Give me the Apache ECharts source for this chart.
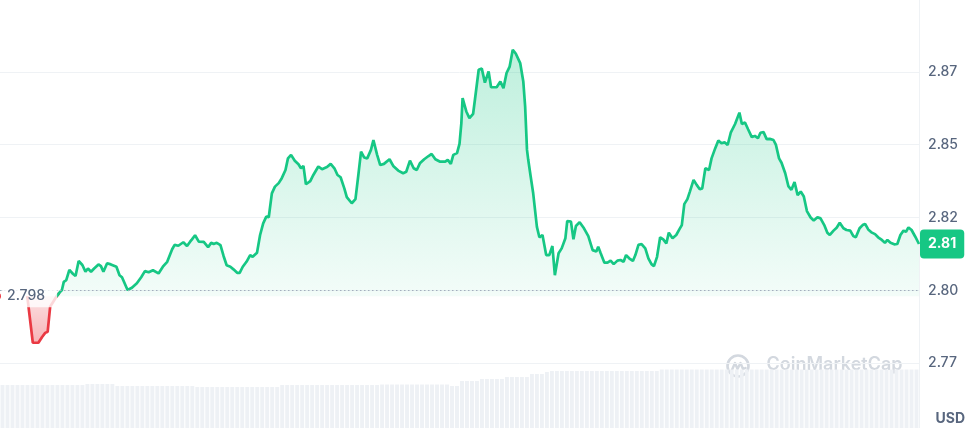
<!DOCTYPE html>
<html>
<head>
<meta charset="utf-8">
<script src="https://cdn.jsdelivr.net/npm/echarts@6/dist/echarts.min.js"></script>
<style>
html,body{margin:0;padding:0;background:#fff;overflow:hidden;width:972px;height:428px;}
#chart{width:972px;height:437px;margin-top:-1px;}
</style>
</head>
<body>
<div id="chart"></div>
<script>
// Open price (reference line)
const openPrice = 2.798;

// Minutes since start of the 24h window
const times = [
0,9,18,24,29,33,37,42,47,52,
56,59,63,68,74,78,83,89,94,98,
103,108,115,119,123,129,135,144,149,153,
162,169,177,184,190,196,203,212,219,226,
234,238,244,252,258,263,266,271,277,285,
292,297,301,306,312,317,322,328,333,339,
343,348,354,360,364,371,376,381,386,390,
395,400,406,411,417,421,426,432,438,442,
446,450,457,462,470,476,484,490,496,501,
506,512,516,524,530,535,539,544,549,555,
559,565,570,576,585,591,599,607,612,618,
624,629,634,641,648,653,659,666,675,679,
684,688,694,698,701,703,709,714,720,723,
729,734,739,745,749,758,764,769,774,779,
784,789,796,801,804,807,809,813,817,823,
827,832,838,843,848,852,858,863,869,872,
878,882,886,892,899,906,913,919,922,926,
932,937,942,947,953,958,963,967,972,978,
982,987,992,998,1003,1008,1012,1017,1022,1027,
1032,1036,1042,1048,1053,1057,1061,1066,1070,1076,
1081,1086,1090,1095,1101,1105,1111,1116,1121,1126,
1131,1136,1143,1150,1154,1159,1164,1170,1175,1180,
1184,1189,1194,1199,1205,1209,1214,1218,1224,1229,
1234,1239,1244,1249,1254,1259,1265,1270,1276,1281,
1287,1292,1296,1302,1307,1312,1318,1323,1329,1334,
1338,1344,1349,1353,1358,1364,1369,1374,1380,1385,
1389,1394,1400,1405,1410,1415,1419,1423,1428,1434,1440
];

// Price in USD
const prices = [
2.7980,2.7820,2.7820,2.7840,2.7854,2.7858,2.7944,2.7961,2.7978,2.7992,
2.8001,2.8029,2.8035,2.8070,2.8056,2.8049,2.8101,2.8087,2.8064,2.8075,
2.8064,2.8075,2.8089,2.8083,2.8064,2.8093,2.8089,2.8081,2.8052,2.8045,
2.8001,2.8009,2.8024,2.8045,2.8066,2.8062,2.8069,2.8058,2.8081,2.8098,
2.8141,2.8156,2.8153,2.8165,2.8152,2.8167,2.8175,2.8189,2.8167,2.8166,
2.8148,2.8163,2.8159,2.8163,2.8155,2.8118,2.8086,2.8081,2.8072,2.8060,
2.8060,2.8081,2.8098,2.8121,2.8115,2.8129,2.8190,2.8230,2.8253,2.8251,
2.8333,2.8356,2.8368,2.8385,2.8413,2.8453,2.8465,2.8445,2.8433,2.8419,
2.8427,2.8364,2.8375,2.8396,2.8425,2.8416,2.8423,2.8434,2.8419,2.8396,
2.8388,2.8350,2.8320,2.8299,2.8313,2.8402,2.8476,2.8456,2.8453,2.8482,
2.8516,2.8465,2.8430,2.8434,2.8450,2.8427,2.8411,2.8402,2.8407,2.8445,
2.8419,2.8413,2.8436,2.8450,2.8461,2.8468,2.8450,2.8442,2.8442,2.8448,
2.8434,2.8465,2.8471,2.8503,2.8574,2.8660,2.8614,2.8591,2.8606,2.8656,
2.8757,2.8761,2.8713,2.8751,2.8697,2.8697,2.8717,2.8694,2.8746,2.8768,
2.8826,2.8812,2.8780,2.8717,2.8631,2.8482,2.8448,2.8390,2.8333,2.8218,
2.8182,2.8190,2.8121,2.8121,2.8152,2.8052,2.8127,2.8144,2.8179,2.8238,
2.8236,2.8175,2.8221,2.8234,2.8213,2.8186,2.8138,2.8133,2.8150,2.8127,
2.8095,2.8095,2.8102,2.8090,2.8102,2.8104,2.8098,2.8121,2.8110,2.8101,
2.8121,2.8156,2.8159,2.8144,2.8110,2.8090,2.8083,2.8115,2.8182,2.8175,
2.8161,2.8198,2.8179,2.8190,2.8209,2.8224,2.8296,2.8313,2.8339,2.8379,
2.8362,2.8347,2.8350,2.8419,2.8413,2.8453,2.8488,2.8514,2.8505,2.8508,
2.8499,2.8541,2.8571,2.8610,2.8571,2.8576,2.8553,2.8526,2.8530,2.8522,
2.8541,2.8543,2.8519,2.8520,2.8516,2.8499,2.8453,2.8438,2.8402,2.8358,
2.8345,2.8372,2.8327,2.8339,2.8322,2.8272,2.8250,2.8240,2.8251,2.8247,
2.8224,2.8198,2.8190,2.8205,2.8215,2.8232,2.8213,2.8207,2.8205,2.8186,
2.8182,2.8213,2.8224,2.8228,2.8209,2.8198,2.8193,2.8182,2.8173,2.8163,
2.8173,2.8163,2.8158,2.8159,2.8190,2.8205,2.8201,2.8216,2.8207,2.8184,2.8159
];

// Relative volume bars (background)
const volumes = [
43,43,43,43,43,43,43,43,43,43,43,43,43,43,43,43,43,
44,44,44,44,44,44,
42,42,42,42,42,42,42,42,42,42,42,42,42,42,42,42,
41,41,41,41,41,41,41,41,41,41,41,41,41,41,41,41,41,
43,43,43,43,43,43,43,43,43,43,43,43,43,43,43,43,43,43,43,43,
43.5,43.5,43.5,43.5,43.5,43.5,43.5,43.5,43.5,43.5,43.5,43.5,43.5,43.5,
42,42,
47,47,47,47,
49,49,49,49,49,
51,51,51,51,51,
54,54,54,
56,
57,57,57,57,57,57,57,57,57,57,57,57,57,57,57,57,57,57,57,57,57,57,
58.5,58.5,58.5,58.5,58.5,58.5,58.5,58.5,58.5,58.5,58.5,58.5,58.5,
58.5,58.5,58.5,58.5,58.5,58.5,58.5,58.5,58.5,58.5,58.5,58.5,58.5,
58.5,58.5,58.5,58.5,58.5,58.5,58.5,58.5,58.5,58.5,58.5,58.5,58.5,
58.5,58.5,58.5,58.5,58.5,58.5,58.5,58.5,58.5,58.5,58.5,58.5,58.5
];

// Axis settings
const priceMin = 2.75, priceMax = 2.9, priceStep = 0.025;
const timeStart = -44, timeEnd = 1440;

const GREEN = '#16c784', RED = '#ea3943', GREY = '#58667e', GRIDC = '#eff2f5';

const pts = times.map((t, i) => [t, prices[i]]);
// split into below-open (red) and above-open (green) parts
let lastBelow = -1;
prices.forEach((p, i) => { if (p < openPrice) lastBelow = i; });
const redPts = pts.slice(0, lastBelow + 2);
const greenPts = pts.slice(lastBelow);

const floor2 = v => (Math.floor(v * 100 + 1e-6) / 100).toFixed(2);

const chart = echarts.init(document.getElementById('chart'), null, {renderer: 'canvas'});
chart.setOption({
  animation: false,
  backgroundColor: '#ffffff',
  textStyle: {fontFamily: 'Inter, "Noto Sans", sans-serif'},
  grid: [
    {left: 0, right: 53, top: 0, bottom: 0},
    {left: 0, right: 53, top: 361, height: 68}
  ],
  xAxis: [
    {type: 'value', gridIndex: 0, min: timeStart, max: timeEnd, show: false},
    {type: 'category', gridIndex: 1, data: volumes.map((v, i) => i), show: false}
  ],
  yAxis: [
    {
      type: 'value', gridIndex: 0, position: 'right',
      min: priceMin, max: priceMax, interval: priceStep,
      axisLine: {show: true, onZero: false, lineStyle: {color: GRIDC, width: 1}},
      axisTick: {show: false},
      splitLine: {show: true, lineStyle: {color: GRIDC, width: 1}},
      axisLabel: {
        margin: 9, color: GREY, fontSize: 14, fontWeight: 500,
        formatter: v => (v < 2.76 || v > 2.89) ? '' : floor2(v)
      }
    },
    {type: 'value', gridIndex: 1, min: 0, max: 68, show: false}
  ],
  series: [
    {
      type: 'bar', xAxisIndex: 1, yAxisIndex: 1, data: volumes,
      barCategoryGap: '22%', itemStyle: {color: '#eef1f5'}, silent: true, z: 1
    },
    {
      type: 'line', xAxisIndex: 0, yAxisIndex: 0, data: redPts,
      showSymbol: false, symbol: 'none', silent: true,
      lineStyle: {color: RED, width: 2.7},
      areaStyle: {
        origin: openPrice,
        opacity: 1,
        color: new echarts.graphic.LinearGradient(0, 0, 0, 1, [
          {offset: 0, color: 'rgba(234,57,67,0.14)'},
          {offset: 1, color: 'rgba(234,57,67,0.38)'}
        ])
      },
      z: 3
    },
    {
      type: 'line', xAxisIndex: 0, yAxisIndex: 0, data: greenPts,
      showSymbol: false, symbol: 'none', silent: true,
      lineStyle: {color: GREEN, width: 2.7},
      areaStyle: {
        origin: openPrice,
        opacity: 1,
        color: new echarts.graphic.LinearGradient(0, 0, 0, 1, [
          {offset: 0, color: 'rgba(22,199,132,0.28)'},
          {offset: 1, color: 'rgba(22,199,132,0.05)'}
        ])
      },
      endLabel: {
        show: true, distance: 1,
        formatter: p => floor2(p.value[1]),
        backgroundColor: GREEN, color: '#ffffff',
        fontSize: 14, fontWeight: 700, padding: [8, 8, 7, 8], borderRadius: 4
      },
      markLine: {
        silent: true, symbol: 'none', label: {show: false},
        lineStyle: {type: [1.5, 2.5], color: '#a3adbd', width: 1},
        data: [{yAxis: openPrice}]
      },
      markPoint: {
        silent: true,
        data: [{
          coord: [timeStart, openPrice],
          symbol: 'circle', symbolSize: 7, symbolOffset: [-2.5, 0],
          itemStyle: {color: RED},
          label: {
            show: true, position: 'right', distance: 2,
            formatter: openPrice.toFixed(3),
            color: GREY, fontSize: 14, fontWeight: 500,
            backgroundColor: 'rgba(255,255,255,0.8)',
            padding: [4, 12, 4, 4]
          }
        }]
      },
      z: 4
    }
  ],
  graphic: [
    {
      type: 'group', left: 725, top: 354, z: 10, silent: true,
      children: [
        {type: 'circle', shape: {cx: 11.5, cy: 12, r: 10.5},
         style: {fill: 'none', stroke: '#d3d8df', lineWidth: 2.6}},
        {type: 'polyline', shape: {points: [[5, 17], [8.5, 9], [11, 15], [14, 9], [16.5, 15], [19, 14]]},
         style: {fill: 'none', stroke: '#d3d8df', lineWidth: 2.4, lineJoin: 'round', lineCap: 'round'}},
        {type: 'text', left: 40, top: 2,
         style: {text: 'CoinMarketCap', fill: '#d3d8df', font: '600 18px Inter, "Noto Sans", sans-serif'}}
      ]
    },
    {
      type: 'text', right: 7, top: 413, silent: true,
      style: {text: 'USD', fill: GREY, font: '700 14px Inter, "Noto Sans", sans-serif'}
    }
  ]
});
</script>
</body>
</html>
